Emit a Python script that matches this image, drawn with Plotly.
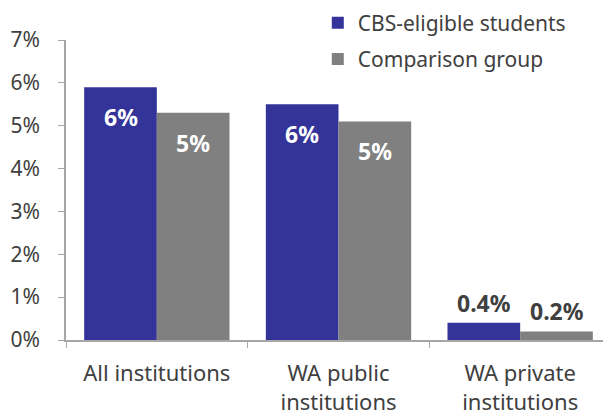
import plotly.graph_objects as go

categories = ["All institutions", "WA public<br>institutions", "WA private<br>institutions"]
cbs_values = [5.9, 5.5, 0.4]
comp_values = [5.3, 5.1, 0.2]
cbs_labels = ["6%", "6%", "0.4%"]
comp_labels = ["5%", "5%", "0.2%"]
inside_flags = [True, True, False]
y_tickvals = [0, 1, 2, 3, 4, 5, 6, 7]
y_ticktext = ["0%", "1%", "2%", "3%", "4%", "5%", "6%", "7%"]

BLUE = "#333399"
GRAY = "#808080"
TEXT = "#404040"
FONT = "Noto Sans, Open Sans, sans-serif"

fig = go.Figure()
fig.add_trace(go.Bar(x=categories, y=cbs_values, name="CBS-eligible students",
                     marker_color=BLUE, marker_line_width=0, legendgroup="a", hoverinfo="skip"))
fig.add_trace(go.Bar(x=categories, y=comp_values, name="Comparison group",
                     marker_color=GRAY, marker_line_width=0, legendgroup="b", hoverinfo="skip"))

annotations = []
for series, labels, off in ((cbs_values, cbs_labels, -0.2), (comp_values, comp_labels, 0.2)):
    for i, (v, lab, inside) in enumerate(zip(series, labels, inside_flags)):
        if inside:
            annotations.append(dict(x=i + off, y=v, xref="x", yref="y", text=lab,
                                    showarrow=False, yanchor="middle", yshift=-30,
                                    font=dict(family=FONT, size=23, color="white", weight="bold")))
        else:
            annotations.append(dict(x=i + off, y=v, xref="x", yref="y", text=lab,
                                    showarrow=False, yanchor="bottom", yshift=2,
                                    font=dict(family=FONT, size=23, color=TEXT, weight="bold")))

fig.update_layout(
    width=603, height=409,
    margin=dict(l=58, r=0, t=32, b=77, autoexpand=False),
    paper_bgcolor="white", plot_bgcolor="white",
    barmode="group", bargap=0.2, bargroupgap=0,
    font=dict(family=FONT, size=21, color=TEXT),
    showlegend=True,
    legend=dict(x=0.462, xanchor="left", y=1.125, yanchor="top",
                font=dict(family=FONT, size=21, color=TEXT),
                tracegroupgap=6, bgcolor="rgba(0,0,0,0)"),
    annotations=annotations,
    xaxis=dict(showline=True, linecolor="#a6a6a6", linewidth=1.5,
               ticks="outside", tickson="boundaries", ticklen=6, tickcolor="#a6a6a6",
               ticklabelstandoff=13,
               tickfont=dict(family=FONT, size=22, color=TEXT),
               showgrid=False, zeroline=False),
    yaxis=dict(range=[0, 7], tickvals=y_tickvals, ticktext=y_ticktext,
               showline=True, linecolor="#a6a6a6", linewidth=1.5,
               ticks="outside", ticklen=6, tickcolor="#a6a6a6",
               ticklabelstandoff=14,
               tickfont=dict(family=FONT, size=21, color=TEXT),
               showgrid=False, zeroline=False),
)

fig.write_html("out.html")
